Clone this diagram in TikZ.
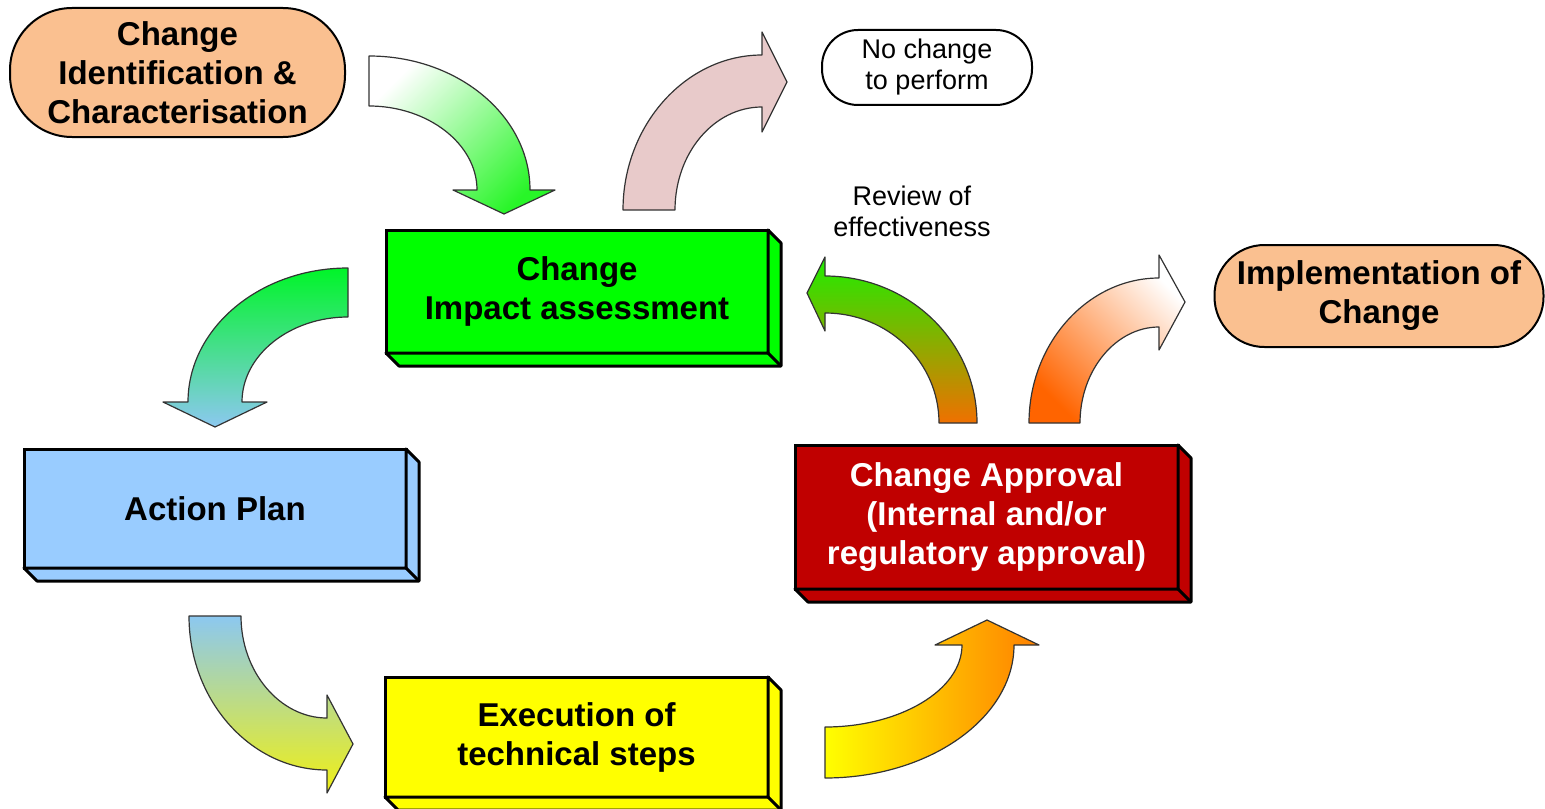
\documentclass[tikz,border=0pt]{standalone}
\usepackage{fontspec}
\setmainfont{Liberation Sans}
\definecolor{peach}{RGB}{250,192,144}
\definecolor{boxgreen}{RGB}{0,255,0}
\definecolor{boxblue}{RGB}{153,204,255}
\definecolor{boxred}{RGB}{192,0,0}
\definecolor{boxyellow}{RGB}{255,255,0}
\definecolor{pinkarrow}{RGB}{232,202,202}
\definecolor{agreen}{RGB}{40,245,40}
\definecolor{cgreen}{RGB}{0,245,40}
\definecolor{ablue}{RGB}{140,200,240}
\definecolor{ayellow}{RGB}{240,240,20}
\definecolor{eyellow}{RGB}{255,255,0}
\definecolor{aorange}{RGB}{255,128,0}
\definecolor{forange}{RGB}{240,112,0}
\definecolor{fgreen}{RGB}{30,238,0}
\definecolor{gorange}{RGB}{255,100,0}
\newcommand{\boxdepth}[2]{%
  \draw[line width=1.5pt, fill=#2, line join=round] (#1.north east) -- ([shift={(13,13)}]#1.north east) -- ([shift={(13,13)}]#1.south east) -- ([shift={(13,13)}]#1.south west) -- (#1.south west) -- (#1.south east) -- cycle;
  \draw[line width=1.5pt] (#1.south east) -- ([shift={(13,13)}]#1.south east);}
\tikzset{
  box3d/.style={draw=black, line width=1.5pt, minimum width=191pt, inner sep=0pt, outer sep=0pt, align=center,
    font=\fontsize{16.5}{19.5}\selectfont\bfseries},
  pill/.style={draw=black, line width=1pt, inner sep=0pt, align=center},
  boldtext/.style={font=\fontsize{16.5}{19.5}\selectfont\bfseries},
  plaintext/.style={font=\fontsize{13.5}{15.5}\selectfont},
  barrow/.style={draw=black!80, line width=0.6pt, line join=round}
}
\begin{document}
\begin{tikzpicture}[x=0.5pt, y=-0.5pt]
\useasboundingbox (0,0) rectangle (1545,808);

% block arrows
\draw[barrow, top color=white, bottom color=agreen, shading angle=45]
  (369,56) .. controls (458,56) and (530,116) .. (530,190) -- (555,190) -- (504,214) -- (453,190) -- (477,190)
  .. controls (477,144) and (428,106) .. (369,106) -- cycle;
\draw[barrow, fill=pinkarrow]
  (623,210) .. controls (623,125) and (686,55) .. (762,55) -- (762,32) -- (787,82) -- (762,132) -- (762,107)
  .. controls (714,107) and (675,153) .. (675,210) -- cycle;
\draw[barrow, top color=cgreen, bottom color=ablue]
  (348,268) .. controls (260,268) and (188,328) .. (188,402) -- (163,402) -- (215,427) -- (267,402) -- (242,402)
  .. controls (242,355) and (290,317) .. (348,317) -- cycle;
\draw[barrow, top color=ablue, bottom color=ayellow]
  (189,616) .. controls (189,701) and (251,770) .. (327,770) -- (327,793) -- (353,744) -- (327,695) -- (327,718)
  .. controls (280,718) and (241,672) .. (241,616) -- cycle;
\draw[barrow, left color=eyellow, right color=aorange]
  (825,778) .. controls (929,778) and (1014,718) .. (1014,645) -- (1039,645) -- (987,620) -- (935,645) -- (962,645)
  .. controls (962,690) and (900,727) .. (825,727) -- cycle;
\draw[barrow, top color=fgreen, bottom color=forange]
  (977,423) .. controls (977,342) and (909,276) .. (825,276) -- (825,257) -- (807,293) -- (825,331) -- (825,313)
  .. controls (888,313) and (939,362) .. (939,423) -- cycle;
\draw[barrow, top color=white, bottom color=gorange, shading angle=-45]
  (1029,423) .. controls (1029,343) and (1088,278) .. (1159,278) -- (1159,255) -- (1185,302) -- (1159,350) -- (1159,327)
  .. controls (1116,327) and (1080,370) .. (1080,423) -- cycle;

% 3D boxes
\node[box3d, fill=boxgreen, minimum height=61.5pt] (cia) at (577,291.5) {Change\\Impact assessment};
\boxdepth{cia}{boxgreen}
\node[box3d, fill=boxblue, minimum height=59.5pt] (ap) at (215,508.5) {Action Plan};
\boxdepth{ap}{boxblue}
\node[box3d, fill=boxred, text=white, minimum width=191.5pt, minimum height=72pt] (ca) at (986.5,517) {Change Approval\\(Internal and/or\\regulatory approval)};
\boxdepth{ca}{boxred}
\node[box3d, fill=boxyellow, minimum width=191.5pt, minimum height=60pt] (ex) at (576.5,737) {Execution of\\technical steps};
\boxdepth{ex}{boxyellow}

% pills
\node[pill, boldtext, fill=peach, minimum width=167.5pt, minimum height=64.5pt, rounded corners=31pt] (cic) at (177.5,72.5) {Change\\Identification \&\\Characterisation};
\node[pill, plaintext, fill=white, minimum width=105pt, minimum height=37.5pt, rounded corners=18pt] (nc) at (927,67.5) {No change\\to perform};
\node[pill, boldtext, fill=peach, minimum width=164.5pt, minimum height=51pt, rounded corners=25pt] (ic) at (1379,296) {Implementation of\\Change};

% label
\node[plaintext, align=center, inner sep=0pt] (rev) at (912,211) {Review of\\effectiveness};
\end{tikzpicture}
\end{document}
